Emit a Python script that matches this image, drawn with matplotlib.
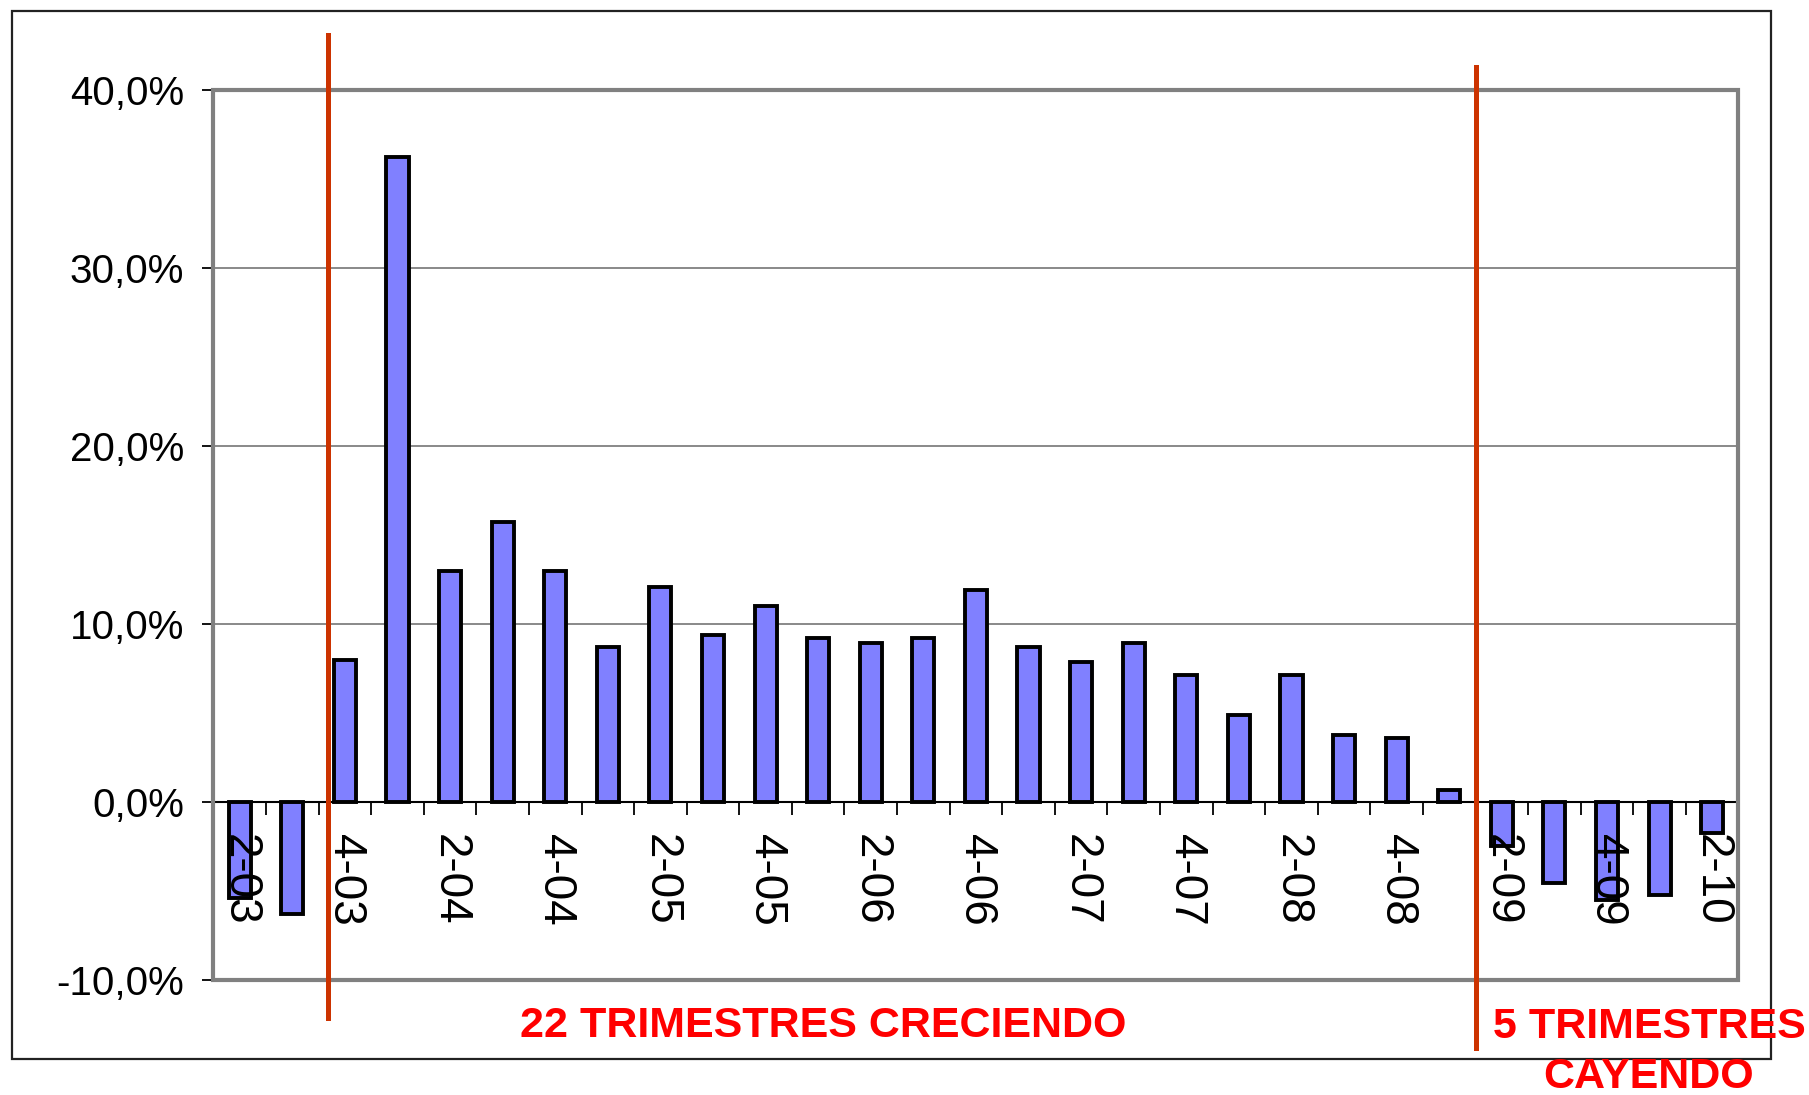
import matplotlib
matplotlib.use("Agg")
import matplotlib.pyplot as plt
import matplotlib.transforms as mtransforms
from matplotlib.patches import Rectangle
from matplotlib.ticker import FixedLocator, FuncFormatter

plt.rcParams['font.family'] = ['Liberation Sans', 'DejaVu Sans']

# quarters 2-03 .. 2-10
quarters = ['2-03', '3-03', '4-03', '1-04', '2-04', '3-04', '4-04', '1-05', '2-05', '3-05',
            '4-05', '1-06', '2-06', '3-06', '4-06', '1-07', '2-07', '3-07', '4-07', '1-08',
            '2-08', '3-08', '4-08', '1-09', '2-09', '3-09', '4-09', '1-10', '2-10']
growth = [-5.4, -6.3, 8.0, 36.2, 13.0, 15.7, 13.0, 8.7, 12.1, 9.4,
          11.0, 9.2, 8.95, 9.2, 11.9, 8.7, 7.85, 8.95, 7.15, 4.9,
          7.15, 3.75, 3.6, 0.7, -2.5, -4.55, -5.5, -5.2, -1.75]
y_ticks = [-10, 0, 10, 20, 30, 40]
phase_labels = ['22 TRIMESTRES CRECIENDO', '5 TRIMESTRES\nCAYENDO']

fig = plt.figure(figsize=(18.09, 10.95), dpi=100)
ax = fig.add_axes([0.118, 0.105, 0.843, 0.813])

x = list(range(len(quarters)))
ax.bar(x, growth, width=0.42, color='#8080FF', edgecolor='black', linewidth=2.8, zorder=1)

ax.set_xlim(-0.5, len(quarters) - 0.5)
ax.set_ylim(-10, 40)

# horizontal gridlines behind the bars
for v in y_ticks[2:-1]:
    ax.axhline(v, color='#808080', lw=1.3, zorder=0.5)

ax.set_yticks(y_ticks)
ax.yaxis.set_major_formatter(FuncFormatter(lambda v, p: f'{v:.1f}%'.replace('.', ',')))
ax.tick_params(axis='y', labelsize=29, length=8, width=1.3, direction='out', pad=13, color='black')

# category axis sits on the zero line
ax.spines['bottom'].set_position(('data', 0))
ax.spines['bottom'].set_color('black')
ax.spines['bottom'].set_linewidth(1.5)
for s in ['top', 'right', 'left']:
    ax.spines[s].set_visible(False)

ax.set_xticks(x[::2])
ax.set_xticklabels(quarters[::2], rotation=-90)
ax.xaxis.set_minor_locator(FixedLocator([i - 0.5 for i in range(len(quarters) + 1)]))
ax.tick_params(axis='x', which='major', length=0, labelsize=33, pad=23)
ax.tick_params(axis='x', which='minor', length=9, width=1.3, direction='out', color='black')

# gray plot-area border
ax.add_patch(Rectangle((0, 0), 1, 1, transform=ax.transAxes, fill=False,
                       edgecolor='#808080', lw=3, clip_on=False, zorder=3))

# phase separators
trans = mtransforms.blended_transform_factory(ax.transData, ax.transAxes)
ax.plot([1.67, 1.67], [1.062, -0.043], color='#CC3300', lw=3.6, transform=trans, clip_on=False, zorder=4)
ax.plot([23.5, 23.5], [1.026, -0.076], color='#CC3300', lw=3.6, transform=trans, clip_on=False, zorder=4)

fig.text(823 / 1809, 1 - 1026 / 1095, phase_labels[0], color='#FF0000', fontsize=31,
         fontweight='bold', ha='center', va='center')
fig.text(1649 / 1809, 1 - 1052 / 1095, phase_labels[1], color='#FF0000', fontsize=31,
         fontweight='bold', ha='center', va='center', linespacing=1.3)

# outer chart frame
fig.patches.append(Rectangle((12 / 1809, 1 - 1059 / 1095), 1759 / 1809, 1048 / 1095,
                             transform=fig.transFigure, fill=False, edgecolor='#222222', lw=1.6))

fig.savefig('out.png', dpi=100)
